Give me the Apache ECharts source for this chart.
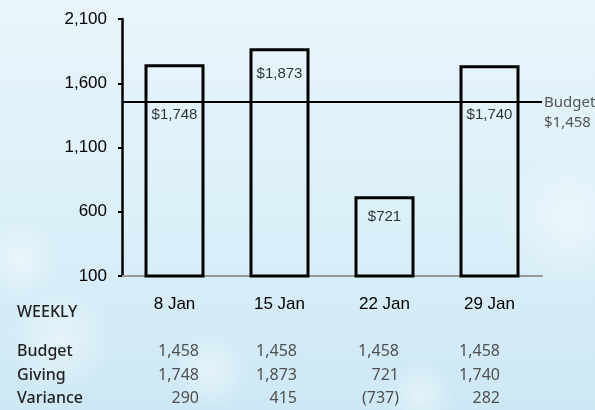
<!DOCTYPE html>
<html>
<head>
<meta charset="utf-8">
<script src="https://cdn.jsdelivr.net/npm/echarts@6/dist/echarts.min.js"></script>
<style>
  html, body { margin: 0; padding: 0; }
  #main { width: 595px; height: 410px; }
</style>
</head>
<body>
<div id="main"></div>
<script>
// weekly giving vs budget
const weeks = ['8 Jan', '15 Jan', '22 Jan', '29 Jan']
const giving = [1748, 1873, 721, 1740]
const budget = [1458, 1458, 1458, 1458]
const variance = [290, 415, -737, 282]
const yTicks = [100, 600, 1100, 1600, 2100]
const budgetLine = 1458

const fmt = v => v < 0 ? '(' + Math.abs(v).toLocaleString('en-US') + ')' : v.toLocaleString('en-US')

let chart = echarts.init(document.getElementById('main'))

// label sits under the budget line when the bar top is close above it
let labelData = giving.map((v, i) => {
  let near = v > budgetLine && v - budgetLine < 400
  return {
    value: [i, near ? budgetLine : v],
    label: { distance: near ? 6 : (v > budgetLine ? 18 : 13) },
    text: '$' + v.toLocaleString('en-US')
  }
})

// table under the chart
let tableFont = '"Noto Sans", "Open Sans", sans-serif'
let colRight = [199, 297, 399, 500]
let rows = [['Budget', budget, 351], ['Giving', giving, 375], ['Variance', variance, 398]]
let table = [{
  type: 'text', x: 17, y: 312,
  style: { text: 'WEEKLY', font: '500 16px ' + tableFont, fill: '#222', verticalAlign: 'middle' }
}]
rows.forEach(r => {
  table.push({
    type: 'text', x: 17, y: r[2],
    style: { text: r[0], font: '500 16px ' + tableFont, fill: '#222', verticalAlign: 'middle' }
  })
  r[1].forEach((v, i) => {
    table.push({
      type: 'text', x: colRight[i], y: r[2],
      style: { text: fmt(v), font: '16px ' + tableFont, fill: '#505050', align: 'right', verticalAlign: 'middle' }
    })
  })
})

// soft clouds
let clouds = [[60, 340, 130, 55], [210, 370, 120, 40], [570, 220, 70, 100], [420, 395, 150, 35], [20, 260, 60, 40]].map(c => ({
  type: 'ellipse', silent: true, z: -10,
  shape: { cx: c[0], cy: c[1], rx: c[2], ry: c[3] },
  style: {
    fill: new echarts.graphic.RadialGradient(0.5, 0.5, 0.5, [
      { offset: 0, color: 'rgba(255,255,255,0.45)' },
      { offset: 1, color: 'rgba(255,255,255,0)' }
    ])
  }
}))

let option = {
  backgroundColor: new echarts.graphic.LinearGradient(0, 0, 0, 1, [
    { offset: 0, color: '#e9f5fb' },
    { offset: 0.5, color: '#dcf0f9' },
    { offset: 1, color: '#cde8f4' }
  ]),
  animation: false,
  grid: { left: 122, right: 53, top: 19, bottom: 134 },
  xAxis: {
    type: 'category',
    data: weeks,
    axisLine: { lineStyle: { color: '#999', width: 2 } },
    axisTick: { show: false },
    axisLabel: { color: '#000', fontSize: 17, fontFamily: 'Liberation Sans', margin: 20 }
  },
  yAxis: {
    type: 'value',
    min: 100,
    max: 2100,
    splitLine: { show: false },
    axisLine: { show: true, lineStyle: { color: '#000', width: 2.5 } },
    axisTick: { show: true, length: 4, customValues: yTicks, lineStyle: { color: '#000', width: 2 } },
    axisLabel: {
      customValues: yTicks,
      color: '#000', fontSize: 17, fontFamily: 'Liberation Sans', margin: 15,
      formatter: v => v.toLocaleString('en-US')
    }
  },
  series: [
    {
      type: 'bar',
      data: giving,
      barWidth: 60,
      itemStyle: { color: 'rgba(255,255,255,0)', borderColor: '#000', borderWidth: 3 },
      markLine: {
        silent: true,
        symbol: 'none',
        lineStyle: { color: '#000', width: 2, type: 'solid' },
        label: {
          position: 'end',
          distance: 2,
          formatter: 'Budget\n$' + budgetLine.toLocaleString('en-US'),
          color: '#555',
          fontSize: 15,
          fontFamily: tableFont,
          lineHeight: 20,
          offset: [0, 11]
        },
        data: [{ yAxis: budgetLine }]
      }
    },
    {
      type: 'scatter',
      symbolSize: 0,
      silent: true,
      data: labelData,
      label: {
        show: true,
        position: 'bottom',
        color: '#000',
        fontSize: 15,
        fontFamily: 'Liberation Sans',
        formatter: p => p.data.text
      },
      z: 5
    }
  ],
  graphic: clouds.concat(table)
}
chart.setOption(option)
</script>
</body>
</html>
